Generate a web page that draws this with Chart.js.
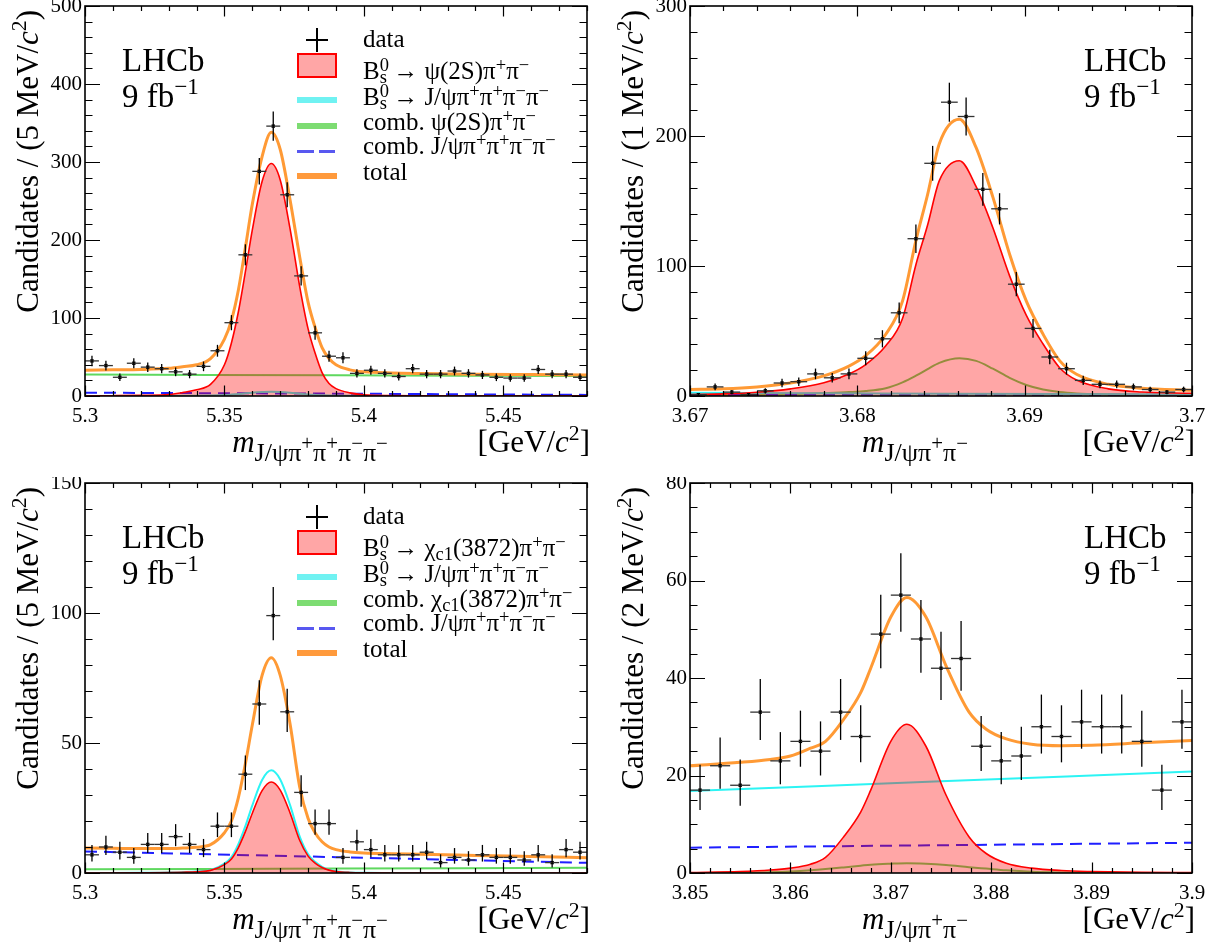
<!DOCTYPE html>
<html>
<head>
<meta charset="utf-8">
<script src="https://cdn.jsdelivr.net/npm/chart.js@4.4.1/dist/chart.umd.min.js"></script>
<style>
  body { margin: 0; background: #fff; }
  #wrap { position: relative; width: 1221px; height: 942px; overflow: hidden;
          font-family: "Liberation Serif", "Times New Roman", serif; color: #000; }
  canvas { position: absolute; }
  .t { position: absolute; white-space: nowrap; line-height: 1; }
  .sp { font-size: 70%; position: relative; top: -0.55em; }
  .sb { font-size: 70%; position: relative; top: 0.32em; }
  .bs { margin-left: -0.5em; }
  .leg .sp { font-size: 74%; top: -0.42em; }
  .leg .sb { font-size: 74%; top: 0.2em; }
  .xt > .sb { font-size: 84%; top: 0.36em; }
  .xt .sb .sp { font-size: 80%; }
</style>
</head>
<body>
<div id="wrap">
  <canvas id="tl" width="605" height="471" style="left:0;top:0"></canvas>
  <canvas id="tr" width="605" height="471" style="left:605px;top:0"></canvas>
  <canvas id="bl" width="605" height="471" style="left:0;top:477px"></canvas>
  <canvas id="br" width="605" height="471" style="left:605px;top:477px"></canvas>
</div>
<script>
// ---------- top left: m(J/psi 4pi), psi(2S) window ----------
const tlXTicks = [5.3, 5.35, 5.4, 5.45];
const tlYTicks = [0, 100, 200, 300, 400, 500];
const tlBins = [5.3025, 5.3075, 5.3125, 5.3175, 5.3225, 5.3275, 5.3325, 5.3375, 5.3425, 5.3475,
                5.3525, 5.3575, 5.3625, 5.3675, 5.3725, 5.3775, 5.3825, 5.3875, 5.3925, 5.3975,
                5.4025, 5.4075, 5.4125, 5.4175, 5.4225, 5.4275, 5.4325, 5.4375, 5.4425, 5.4475,
                5.4525, 5.4575, 5.4625, 5.4675, 5.4725, 5.4775];
const tlCounts = [45, 39, 24, 42, 37, 35, 31, 28, 38, 58, 94, 181, 288, 346, 258, 154, 81, 51, 49, 29,
                  33, 29, 25, 35, 28, 28, 32, 29, 27, 24, 23, 23, 34, 28, 28, 24];
const tlErr = [6.7, 6.2, 4.9, 6.5, 6.1, 5.9, 5.6, 5.3, 6.2, 7.6, 9.7, 13.5, 17, 18.6, 16.1, 12.4, 9, 7.1, 7, 5.4,
               5.7, 5.4, 5, 5.9, 5.3, 5.3, 5.7, 5.4, 5.2, 4.9, 4.8, 4.8, 5.8, 5.3, 5.3, 4.9];
const tlFitX = [5.30, 5.31, 5.32, 5.33, 5.335, 5.34, 5.345, 5.35, 5.3525, 5.355, 5.3575, 5.36, 5.3635, 5.3668,
                5.37, 5.3735, 5.377, 5.38, 5.3825, 5.385, 5.3875, 5.39, 5.395, 5.40, 5.41, 5.42, 5.44, 5.46, 5.48];
const tlSignal = [0.2, 0.4, 0.8, 1.8, 4.5, 8, 15, 40, 68, 108, 159, 213, 275, 298,
                  277, 215, 140, 86, 55, 30, 16, 9.5, 4, 1.5, 0.5, 0.3, 0.2, 0.1, 0.1];
const tlNonRes = [0.05, 0.05, 0.1, 0.15, 0.2, 0.3, 0.6, 1.2, 1.8, 2.5, 3.4, 4.2, 5, 5.5,
                  5.1, 4.2, 3, 2, 1.4, 0.9, 0.6, 0.4, 0.2, 0.1, 0.05, 0.05, 0, 0, 0];
const tlTotal = [33, 33.5, 34, 35.5, 37.5, 40, 48, 73, 97, 136, 190, 246, 307, 338,
                 316, 252, 178, 120, 88, 62, 48, 40, 33.5, 31, 29.5, 28.8, 28, 27.5, 27];
const tlCombX = [5.30, 5.39, 5.48];
const tlCombRes = [27.5, 26.5, 25.5];
const tlCombJpsi = [4.2, 3.0, 1.4];

// ---------- top right: m(J/psi pi pi) around psi(2S) ----------
const trXTicks = [3.67, 3.68, 3.69, 3.7];
const trYTicks = [0, 100, 200, 300];
const trBins = [3.6705, 3.6715, 3.6725, 3.6735, 3.6745, 3.6755, 3.6765, 3.6775, 3.6785, 3.6795,
                3.6805, 3.6815, 3.6825, 3.6835, 3.6845, 3.6855, 3.6865, 3.6875, 3.6885, 3.6895,
                3.6905, 3.6915, 3.6925, 3.6935, 3.6945, 3.6955, 3.6965, 3.6975, 3.6985, 3.6995];
const trCounts = [1, 7, 3, 1, 4, 10, 11, 17, 14, 17, 29, 44, 64, 121, 179, 226, 215, 159, 144, 86,
                  52, 30, 21, 12, 9, 9, 7, 5, 3, 5];
const trErr = [1, 2.6, 1.7, 1, 2, 3.2, 3.3, 4.1, 3.7, 4.1, 5.4, 6.6, 8, 11, 13.4, 15, 14.7, 12.6, 12, 9.3,
               7.2, 5.5, 4.6, 3.5, 3, 3, 2.6, 2.2, 1.7, 2.2];
const trFitX = [3.670, 3.672, 3.674, 3.676, 3.678, 3.6795, 3.6805, 3.6817, 3.6827, 3.6835, 3.6842, 3.6849,
                3.6861, 3.6871, 3.6881, 3.6891, 3.6901, 3.6911, 3.6921, 3.6931, 3.695, 3.697, 3.700];
const trSignal = [1.2, 1.6, 2.9, 5.5, 10.2, 17, 24.2, 38.6, 59.6, 101, 131.5, 165.7,
                  181, 161, 129.4, 92.4, 62, 40, 21.6, 12.3, 5.5, 3.1, 2.1];
const trCombRes = [0.3, 0.5, 0.8, 1.3, 2.2, 3, 3.8, 6, 10.5, 15.6, 20.7, 25.5,
                   29, 27, 21, 14, 8.5, 5, 3, 2, 1.2, 0.7, 0.3];
const trTotal = [5, 5.5, 7, 10, 15.5, 23, 31, 47.5, 73, 119.5, 155, 194,
                 212.8, 191, 153, 109, 73, 47.5, 27, 16.7, 9, 6, 4.5];
const trLineX = [3.67, 3.685, 3.70];
const trNonRes = [2.5, 1.8, 1.1];
const trCombJpsi = [1.0, 1.0, 1.0];

// ---------- bottom left: m(J/psi 4pi), chi_c1(3872) window ----------
const blXTicks = [5.3, 5.35, 5.4, 5.45];
const blYTicks = [0, 50, 100, 150];
const blBins = tlBins;
const blCounts = [7, 10, 8, 6, 11, 11, 14, 11, 9, 18, 18, 38, 65, 99, 62, 31, 19, 19, 6, 12,
                  9, 7, 7, 7, 8, 4, 6, 5, 7, 6, 6, 5, 7, 4, 9, 8];
const blErrLo = [2.6, 3.1, 2.8, 2.4, 3.3, 3.3, 3.7, 3.3, 2.9, 4.2, 4.2, 6.1, 8, 9.5, 7.8, 5.5, 4.3, 4.3, 2.4, 3.4,
                 2.9, 2.6, 2.6, 2.6, 2.8, 1.9, 2.4, 2.2, 2.6, 2.4, 2.4, 2.2, 2.6, 1.9, 2.9, 2.8];
const blErrHi = [3.8, 4.3, 4, 3.6, 4.4, 4.4, 4.8, 4.4, 4.1, 5.3, 5.3, 7.2, 9.1, 11, 8.9, 6.6, 5.4, 5.4, 3.6, 4.6,
                 4.1, 3.8, 3.8, 3.8, 4, 3.2, 3.6, 3.4, 3.8, 3.6, 3.6, 3.4, 3.8, 3.2, 4.1, 4];
const blFitX = tlFitX;
const blSignal = [0, 0, 0.05, 0.15, 0.3, 0.5, 1, 3.2, 5.4, 9.8, 15.9, 23, 31.7, 35,
                  31.9, 23.2, 12.5, 6.5, 3.8, 2.1, 1.1, 0.6, 0.2, 0.05, 0, 0, 0, 0, 0];
const blNonRes = [0, 0, 0.05, 0.17, 0.34, 0.56, 1.1, 3.6, 6.1, 11.1, 18, 26, 35.8, 39.5,
                  36, 26.2, 14, 7.2, 4.3, 2.4, 1.2, 0.7, 0.22, 0.06, 0, 0, 0, 0, 0];
const blTotal = [9.6, 9.5, 9.4, 9.4, 9.6, 9.9, 10.9, 15.5, 20, 29, 42, 57, 76, 82.8,
                 76, 57.5, 33, 21, 15.5, 12, 10, 9, 8.1, 7.7, 7.4, 7.2, 6.75, 6.3, 5.9];
const blCombX = [5.30, 5.39, 5.48];
const blCombRes = [1.4, 1.7, 2.0];
const blCombJpsi = [8.3, 6.1, 3.9];

// ---------- bottom right: m(J/psi pi pi) around chi_c1(3872) ----------
const brXTicks = [3.85, 3.86, 3.87, 3.88, 3.89, 3.9];
const brYTicks = [0, 20, 40, 60, 80];
const brBins = [3.851, 3.853, 3.855, 3.857, 3.859, 3.861, 3.863, 3.865, 3.867, 3.869, 3.871, 3.873, 3.875,
                3.877, 3.879, 3.881, 3.883, 3.885, 3.887, 3.889, 3.891, 3.893, 3.895, 3.897, 3.899];
const brCounts = [17, 22, 18, 33, 23, 27, 25, 33, 28, 49, 57, 48, 42, 44, 26, 23, 24, 30, 28, 31, 30, 30, 27, 17, 31];
const brErrLo = [4.1, 4.7, 4.2, 5.7, 4.8, 5.2, 5, 5.7, 5.3, 7, 7.5, 6.9, 6.5, 6.6, 5.1, 4.8, 4.9, 5.5, 5.3, 5.5,
                 5.5, 5.5, 5.2, 4.1, 5.5];
const brErrHi = [5.2, 5.8, 5.3, 6.8, 5.9, 6.3, 6.1, 6.8, 6.4, 8.1, 8.6, 8, 7.5, 7.7, 6.2, 5.9, 6, 6.6, 6.4, 6.6,
                 6.6, 6.6, 6.3, 5.2, 6.6];
const brFitX = [3.850, 3.855, 3.858, 3.860, 3.862, 3.8635, 3.8653, 3.867, 3.868, 3.870, 3.8716,
                3.8735, 3.8755, 3.8778, 3.8795, 3.8815, 3.884, 3.887, 3.890, 3.895, 3.900];
const brSignal = [0.1, 0.3, 0.6, 1.0, 1.8, 3.2, 7.4, 12.5, 17, 27, 30.5,
                  26, 16, 7.4, 4, 2, 1, 0.5, 0.3, 0.15, 0.1];
const brCombRes = [0, 0.05, 0.15, 0.3, 0.55, 0.8, 1.15, 1.5, 1.7, 1.9, 2,
                   1.9, 1.65, 1.2, 0.9, 0.55, 0.25, 0.1, 0.03, 0, 0];
const brTotal = [22, 22.7, 23.3, 24, 25.6, 27, 31.5, 37, 42, 52.5, 56.5,
                 52.5, 42.5, 33, 29.5, 27.5, 26.4, 26.1, 26.2, 26.7, 27.2];
const brLineX = [3.85, 3.875, 3.90];
const brNonRes = [16.8, 18.8, 20.8];
const brCombJpsi = [5.2, 5.7, 6.2];

const FONT = '"Liberation Serif", "Times New Roman", serif';
const C_TOTAL = '#ff9a35', C_SIG = '#ff0000', C_SIGFILL = 'rgba(255,0,0,0.35)';
const C_NONRES = '#2cf4f4', C_COMB = '#5fd85f', C_JPSI = '#1f1fff';

const pts = (xs, ys) => xs.map((x, i) => ({ x: x, y: ys[i] }));

// ROOT-like frame with inward ticks on all four sides
const frame = {
  id: 'frame',
  afterDraw(chart, args, o) {
    const { ctx, chartArea: a, scales: { x, y } } = chart;
    ctx.save();
    ctx.strokeStyle = '#000';
    ctx.lineWidth = 1.2;
    ctx.beginPath();
    const nx = Math.round((x.max - x.min) / o.xMinor);
    for (let i = 0; i <= nx; i++) {
      const v = x.min + i * o.xMinor;
      const r = v / o.xMajor;
      const len = Math.abs(r - Math.round(r)) < 1e-6 ? 10.5 : 5;
      const px = Math.round(x.getPixelForValue(v)) + 0.5;
      ctx.moveTo(px, a.bottom); ctx.lineTo(px, a.bottom - len);
      ctx.moveTo(px, a.top); ctx.lineTo(px, a.top + len);
    }
    const ny = Math.round((y.max - y.min) / o.yMinor);
    for (let i = 0; i <= ny; i++) {
      const v = y.min + i * o.yMinor;
      const len = v % o.yMajor === 0 ? 15 : 7.5;
      const py = Math.round(y.getPixelForValue(v)) + 0.5;
      ctx.moveTo(a.left, py); ctx.lineTo(a.left + len, py);
      ctx.moveTo(a.right, py); ctx.lineTo(a.right - len, py);
    }
    ctx.stroke();
    ctx.lineWidth = 1.6;
    ctx.strokeRect(a.left, a.top, a.right - a.left, a.bottom - a.top);
    ctx.restore();
  }
};

// error bars for the data points
const errorBars = {
  id: 'errorBars',
  afterDatasetsDraw(chart) {
    const ds = chart.data.datasets.find(d => d.errLo);
    const { ctx, chartArea: a, scales: { x, y } } = chart;
    ctx.save();
    ctx.beginPath();
    ctx.rect(a.left, a.top, a.right - a.left, a.bottom - a.top);
    ctx.clip();
    ctx.lineWidth = 1.3;
    ds.data.forEach((p, i) => {
      const px = x.getPixelForValue(p.x), py = y.getPixelForValue(p.y);
      ctx.strokeStyle = '#333';
      ctx.beginPath();
      ctx.moveTo(x.getPixelForValue(p.x - ds.halfBin), py);
      ctx.lineTo(x.getPixelForValue(p.x + ds.halfBin), py);
      ctx.stroke();
      ctx.strokeStyle = '#000';
      ctx.beginPath();
      ctx.moveTo(px, y.getPixelForValue(p.y - ds.errLo[i]));
      ctx.lineTo(px, y.getPixelForValue(p.y + ds.errHi[i]));
      ctx.stroke();
    });
    ctx.restore();
  }
};

function curve(data, color, width, order, extra) {
  return Object.assign({
    type: 'line', data: data, borderColor: color, borderWidth: width, order: order,
    pointRadius: 0, fill: false, cubicInterpolationMode: 'monotone'
  }, extra || {});
}

function makePanel(id, p) {
  new Chart(document.getElementById(id), {
    type: 'line',
    data: {
      datasets: [
        { data: pts(p.bins, p.counts), errLo: p.errLo, errHi: p.errHi, halfBin: p.halfBin,
          showLine: false, pointStyle: 'rect', pointRadius: 2.4, pointBorderWidth: 0,
          pointBackgroundColor: '#000', order: 0 },
        curve(pts(p.fitX, p.total), C_TOTAL, 3, 1),
        curve(pts(p.fitX, p.signal), C_SIG, 1.6, 2, { fill: 'origin', backgroundColor: C_SIGFILL }),
        curve(p.nonRes, C_NONRES, 2, 3),
        curve(p.combJpsi, C_JPSI, 2, 4, { borderDash: [12, 7] }),
        curve(p.combRes, C_COMB, 2, 5)
      ]
    },
    options: {
      responsive: false,
      animation: false,
      events: [],
      devicePixelRatio: 1,
      layout: { padding: { top: 6, right: 18, left: 0, bottom: 0 } },
      plugins: {
        legend: { display: false },
        tooltip: { enabled: false },
        frame: { xMinor: p.xMinor, xMajor: p.xMajor, yMinor: p.yMinor, yMajor: p.yMajor }
      },
      scales: {
        x: {
          type: 'linear', min: p.xMin, max: p.xMax,
          grid: { display: false, drawTicks: false }, border: { display: false },
          ticks: { font: { family: FONT, size: 21 }, color: '#000', padding: 8, maxRotation: 0,
                   autoSkip: false, callback: v => String(v) },
          afterBuildTicks: s => { s.ticks = p.xTicks.map(v => ({ value: v })); },
          afterFit: s => { s.height = 75; s.paddingLeft = 0; s.paddingRight = 0; }
        },
        y: {
          type: 'linear', min: 0, max: p.yMax,
          grid: { display: false, drawTicks: false }, border: { display: false },
          ticks: { font: { family: FONT, size: 21 }, color: '#000', padding: 3,
                   callback: v => String(v) },
          afterBuildTicks: s => { s.ticks = p.yTicks.map(v => ({ value: v })); },
          afterFit: s => { s.width = 85; s.paddingTop = 0; s.paddingBottom = 0; }
        }
      }
    },
    plugins: [frame, errorBars]
  });
}

makePanel('tl', {
  bins: tlBins, counts: tlCounts, errLo: tlErr, errHi: tlErr, halfBin: 0.0025,
  fitX: tlFitX, total: tlTotal, signal: tlSignal, nonRes: pts(tlFitX, tlNonRes),
  combRes: pts(tlCombX, tlCombRes), combJpsi: pts(tlCombX, tlCombJpsi),
  xMin: 5.3, xMax: 5.48, yMax: 500, xTicks: tlXTicks, yTicks: tlYTicks,
  xMinor: 0.01, xMajor: 0.05, yMinor: 20, yMajor: 100
});
makePanel('tr', {
  bins: trBins, counts: trCounts, errLo: trErr, errHi: trErr, halfBin: 0.0005,
  fitX: trFitX, total: trTotal, signal: trSignal, nonRes: pts(trLineX, trNonRes),
  combRes: pts(trFitX, trCombRes), combJpsi: pts(trLineX, trCombJpsi),
  xMin: 3.67, xMax: 3.70, yMax: 300, xTicks: trXTicks, yTicks: trYTicks,
  xMinor: 0.002, xMajor: 0.01, yMinor: 20, yMajor: 100
});
makePanel('bl', {
  bins: blBins, counts: blCounts, errLo: blErrLo, errHi: blErrHi, halfBin: 0.0025,
  fitX: blFitX, total: blTotal, signal: blSignal, nonRes: pts(blFitX, blNonRes),
  combRes: pts(blCombX, blCombRes), combJpsi: pts(blCombX, blCombJpsi),
  xMin: 5.3, xMax: 5.48, yMax: 150, xTicks: blXTicks, yTicks: blYTicks,
  xMinor: 0.01, xMajor: 0.05, yMinor: 10, yMajor: 50
});
makePanel('br', {
  bins: brBins, counts: brCounts, errLo: brErrLo, errHi: brErrHi, halfBin: 0.001,
  fitX: brFitX, total: brTotal, signal: brSignal, nonRes: pts(brLineX, brNonRes),
  combRes: pts(brFitX, brCombRes), combJpsi: pts(brLineX, brCombJpsi),
  xMin: 3.85, xMax: 3.90, yMax: 80, xTicks: brXTicks, yTicks: brYTicks,
  xMinor: 0.002, xMajor: 0.01, yMinor: 5, yMajor: 20
});

// ---------- text: titles, LHCb label, legends ----------
const wrap = document.getElementById('wrap');
function addText(html, style, cls) {
  const d = document.createElement('div');
  d.className = 't' + (cls ? ' ' + cls : '');
  d.innerHTML = html;
  Object.assign(d.style, style);
  wrap.appendChild(d);
}
function addBox(style) {
  const d = document.createElement('div');
  d.style.position = 'absolute';
  Object.assign(d.style, style);
  wrap.appendChild(d);
}
const PIP = 'π<span class="sp">+</span>', PIM = 'π<span class="sp">−</span>';
const BS = 'B<span class="sp">0</span><span class="sb bs">s</span>';
const J4PI = 'J/ψ' + PIP + PIP + PIM + PIM;
const CHI = 'χ<span class="sb">c1</span>(3872)';

const panelText = [
  { x: 0, y: 0, bin: '5', sub: J4PI, lx: 122 },
  { x: 605, y: 0, bin: '1', sub: 'J/ψ' + PIP + PIM, lx: 479 },
  { x: 0, y: 477, bin: '5', sub: J4PI, lx: 122 },
  { x: 605, y: 477, bin: '2', sub: 'J/ψ' + PIP + PIM, lx: 479 }
];
panelText.forEach(p => {
  addText('Candidates / (' + p.bin + ' MeV/<i>c</i><span class="sp">2</span>)',
    { left: p.x + 12 + 'px', top: p.y + 396 + 'px', width: '386px', textAlign: 'right',
      fontSize: '31px', transformOrigin: '0 0', transform: 'rotate(-90deg)' });
  addText('<i>m</i><span class="sb">' + p.sub + '</span>',
    { left: p.x + 310 + 'px', top: p.y + 426 + 'px', fontSize: '31px', transform: 'translateX(-50%)' }, 'xt');
  addText('[GeV/<i>c</i><span class="sp">2</span>]',
    { left: p.x + 590 + 'px', top: p.y + 426 + 'px', fontSize: '31px', transform: 'translateX(-100%)' });
  addText('LHCb', { left: p.x + p.lx + 'px', top: p.y + 44 + 'px', fontSize: '33px' });
  addText('9 fb<span class="sp">−1</span>', { left: p.x + p.lx + 'px', top: p.y + 80 + 'px', fontSize: '33px' });
});

const legends = [
  { x: 0, y: 0, rows: ['data', BS + ' → ψ(2S)' + PIP + PIM, BS + ' → ' + J4PI,
                       'comb. ψ(2S)' + PIP + PIM, 'comb. ' + J4PI, 'total'] },
  { x: 0, y: 477, rows: ['data', BS + ' → ' + CHI + PIP + PIM, BS + ' → ' + J4PI,
                         'comb. ' + CHI + PIP + PIM, 'comb. ' + J4PI, 'total'] }
];
const rowTops = [26, 58, 84, 109, 133, 159];
legends.forEach(L => {
  L.rows.forEach((r, i) => addText(r, { left: L.x + 363 + 'px', top: L.y + rowTops[i] + 'px', fontSize: '25px' }, 'leg'));
  addBox({ left: L.x + 316 + 'px', top: L.y + 28 + 'px', width: '2px', height: '24px', background: '#000' });
  addBox({ left: L.x + 306 + 'px', top: L.y + 39 + 'px', width: '22px', height: '2px', background: '#000' });
  addBox({ left: L.x + 297 + 'px', top: L.y + 53 + 'px', width: '40px', height: '25px', boxSizing: 'border-box',
           border: '2px solid #f00', background: C_SIGFILL });
  addBox({ left: L.x + 297 + 'px', top: L.y + 97 + 'px', width: '40px', height: '6px', background: '#70f2f2' });
  addBox({ left: L.x + 297 + 'px', top: L.y + 123 + 'px', width: '40px', height: '6px', background: '#7ddc72' });
  addBox({ left: L.x + 297 + 'px', top: L.y + 150 + 'px', width: '38px', height: '3px',
           background: 'repeating-linear-gradient(90deg,#5858f0 0 17px,transparent 17px 22px)' });
  addBox({ left: L.x + 297 + 'px', top: L.y + 173 + 'px', width: '40px', height: '6px', background: '#ff9a3c' });
});
</script>
</body>
</html>
